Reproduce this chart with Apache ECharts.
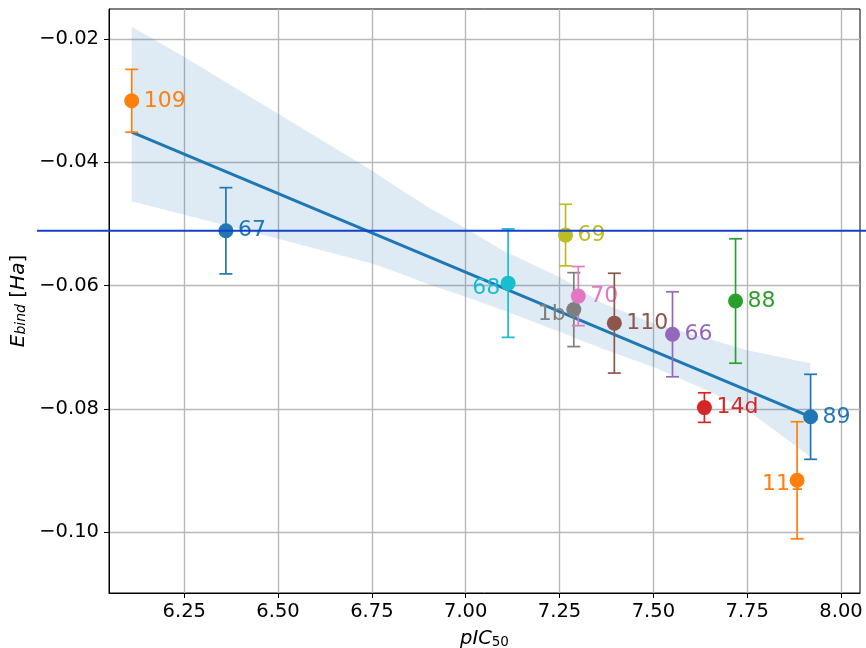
<!DOCTYPE html>
<html><head><meta charset="utf-8">
<script src="https://cdn.jsdelivr.net/npm/echarts@6/dist/echarts.min.js"></script>
<style>html,body{margin:0;padding:0;background:#fff}#c{width:866px;height:648px}</style>
</head><body><div id="c"></div>
<script>
// ---- data ----
const labels = ['109', '67', '68', '69', '1b', '70', '110', '66', '88', '14d', '89', '111'];
const pIC50 = [6.110, 6.361, 7.113, 7.266, 7.288, 7.300, 7.396, 7.551, 7.719, 7.636, 7.919, 7.883];
const eBind = [-0.0300, -0.0511, -0.0596, -0.0518, -0.0639, -0.0617, -0.0661, -0.0679, -0.0625, -0.0798, -0.0813, -0.0916];
const eErr = [0.0051, 0.0070, 0.0088, 0.0050, 0.0060, 0.0048, 0.0081, 0.0069, 0.0101, 0.0024, 0.0069, 0.0095];
const fitX = [6.110, 7.919];
const fitY = [-0.0351, -0.0813];
const bandX = [6.110, 6.250, 6.500, 6.750, 6.824, 6.900, 7.000, 7.099, 7.250, 7.366, 7.500, 7.632, 7.750, 7.918];
const bandHigh = [-0.0180, -0.0229, -0.0321, -0.0413, -0.0443, -0.0473, -0.0507, -0.0543, -0.0586, -0.0629, -0.0661, -0.0684, -0.0705, -0.0726];
const bandLow = [-0.0463, -0.0485, -0.0524, -0.0564, -0.0580, -0.0598, -0.0618, -0.0640, -0.0675, -0.0703, -0.0732, -0.0767, -0.0802, -0.0878];
const refLineY = -0.0511;
const xTicks = [6.25, 6.50, 6.75, 7.00, 7.25, 7.50, 7.75, 8.00];
const yTicks = [-0.10, -0.08, -0.06, -0.04, -0.02];

// ---- styles ----
const pointColors = ['#ff7f0e', '#1f77b4', '#17becf', '#bcbd22', '#7f7f7f', '#e377c2', '#8c564b', '#9467bd', '#2ca02c', '#d62728', '#1f77b4', '#ff7f0e'];
const labelPlace = { '68': [-8, 5, 'right'], '1b': [-8, 5, 'right'], '111': [7, 4, 'right'] };
const defaultPlace = [12, 0, 'left'];
const FONT = 'DejaVu Sans';

const chart = echarts.init(document.getElementById('c'), null, { renderer: 'canvas' });

const pointData = pIC50.map((x, i) => [x, eBind[i], eErr[i], i]);
const bandData = bandX.map((x, i) => [x, bandLow[i], bandHigh[i]]);
const fitData = fitX.map((x, i) => [x, fitY[i]]);

const option = {
  animation: false,
  backgroundColor: '#fff',
  grid: { left: 109, right: 6, top: 9, bottom: 55, containLabel: false, outerBoundsMode: 'none',
    show: true, borderColor: '#000', borderWidth: 1, backgroundColor: 'transparent' },
  xAxis: {
    type: 'value', min: 6.0495, max: 8.0506,
    name: '{i|pIC}{s|50}', nameLocation: 'middle', nameGap: 34,
    nameTextStyle: { rich: {
      i: { fontFamily: FONT, fontStyle: 'italic', fontSize: 19.5, color: '#000', verticalAlign: 'bottom' },
      s: { fontFamily: FONT, fontSize: 13.5, color: '#000', verticalAlign: 'bottom', padding: [8, 0, 0, 0] }
    } },
    axisLine: { show: true, onZero: false, lineStyle: { color: '#000', width: 1 } },
    axisTick: { show: true, inside: false, length: 5, customValues: xTicks, lineStyle: { color: '#000', width: 1 } },
    axisLabel: { show: true, customValues: xTicks, margin: 9, fontFamily: FONT, fontSize: 19.5, color: '#000', formatter: v => v.toFixed(2) },
    splitLine: { show: true, lineStyle: { color: '#b8b8b8', width: 1.4 } }
  },
  yAxis: {
    type: 'value', min: -0.1099, max: -0.0151,
    name: '{i|E}{s|bind}{n| [}{i|Ha}{n|]}', nameLocation: 'middle', nameGap: 74, nameRotate: 90,
    nameTextStyle: { rich: {
      i: { fontFamily: FONT, fontStyle: 'italic', fontSize: 20, color: '#000', verticalAlign: 'bottom' },
      n: { fontFamily: FONT, fontSize: 20, color: '#000', verticalAlign: 'bottom' },
      s: { fontFamily: FONT, fontStyle: 'italic', fontSize: 14, color: '#000', verticalAlign: 'bottom', padding: [8, 0, 0, 0] }
    } },
    axisLine: { show: true, onZero: false, lineStyle: { color: '#000', width: 1 } },
    axisTick: { show: true, inside: false, length: 5, customValues: yTicks, lineStyle: { color: '#000', width: 1 } },
    axisLabel: { show: true, customValues: yTicks, margin: 10, fontFamily: FONT, fontSize: 19.5, color: '#000',
      formatter: v => (v < 0 ? '\u2212' : '') + Math.abs(v).toFixed(2) },
    splitLine: { show: true, lineStyle: { color: '#b8b8b8', width: 1.4 } }
  },
  series: [
    {
      name: 'band', type: 'custom', z: 1, silent: true,
      data: bandData, encode: { x: 0, y: [1, 2] },
      renderItem: (params, api) => {
        if (params.dataIndex !== 0) return null;
        const upper = bandX.map((x, i) => api.coord([x, bandHigh[i]]));
        const lower = bandX.map((x, i) => api.coord([x, bandLow[i]])).reverse();
        return { type: 'polygon', shape: { points: upper.concat(lower) }, style: { fill: 'rgba(31,119,180,0.15)', stroke: null } };
      }
    },
    {
      name: 'fit', type: 'line', z: 2, data: fitData, showSymbol: false, symbol: 'none', silent: true,
      lineStyle: { color: '#1f77b4', width: 3 }
    },
    {
      name: 'errbars', type: 'custom', z: 3, clip: false, silent: true,
      data: pointData, encode: { x: 0, y: 1 },
      renderItem: (params, api) => {
        const x = api.value(0), y = api.value(1), e = api.value(2), i = api.value(3);
        const c = pointColors[i];
        const top = api.coord([x, y + e]);
        const bot = api.coord([x, y - e]);
        const ctr = api.coord([x, y]);
        const cap = 6.5;
        const pl = labelPlace[labels[i]] || defaultPlace;
        const ls = { stroke: c, lineWidth: 1.7 };
        return {
          type: 'group',
          children: [
            { type: 'line', shape: { x1: top[0], y1: top[1], x2: bot[0], y2: bot[1] }, style: ls },
            { type: 'line', shape: { x1: top[0] - cap, y1: top[1], x2: top[0] + cap, y2: top[1] }, style: ls },
            { type: 'line', shape: { x1: bot[0] - cap, y1: bot[1], x2: bot[0] + cap, y2: bot[1] }, style: ls },
            { type: 'text', x: ctr[0] + pl[0], y: ctr[1] + pl[1],
              style: { text: labels[i], fill: c, font: '22px "DejaVu Sans"', fontSize: 22, fontFamily: FONT,
                align: pl[2], verticalAlign: 'middle', textAlign: pl[2], textVerticalAlign: 'middle' } }
          ]
        };
      }
    },
    {
      name: 'points', type: 'scatter', z: 5, symbol: 'circle', symbolSize: 15, silent: true,
      data: pointData.map(d => [d[0], d[1]]),
      itemStyle: { color: p => pointColors[p.dataIndex], opacity: 1 }
    }
  ]
};
chart.setOption(option);

// reference line drawn across the whole figure width at refLineY
const refPix = chart.convertToPixel({ gridIndex: 0 }, [7.0, refLineY]);
chart.setOption({
  graphic: [{
    type: 'line', z: 10, silent: true,
    shape: { x1: 37, y1: refPix[1], x2: 866, y2: refPix[1] },
    style: { stroke: '#1440cc', lineWidth: 2 }
  }]
});
</script>
</body></html>
